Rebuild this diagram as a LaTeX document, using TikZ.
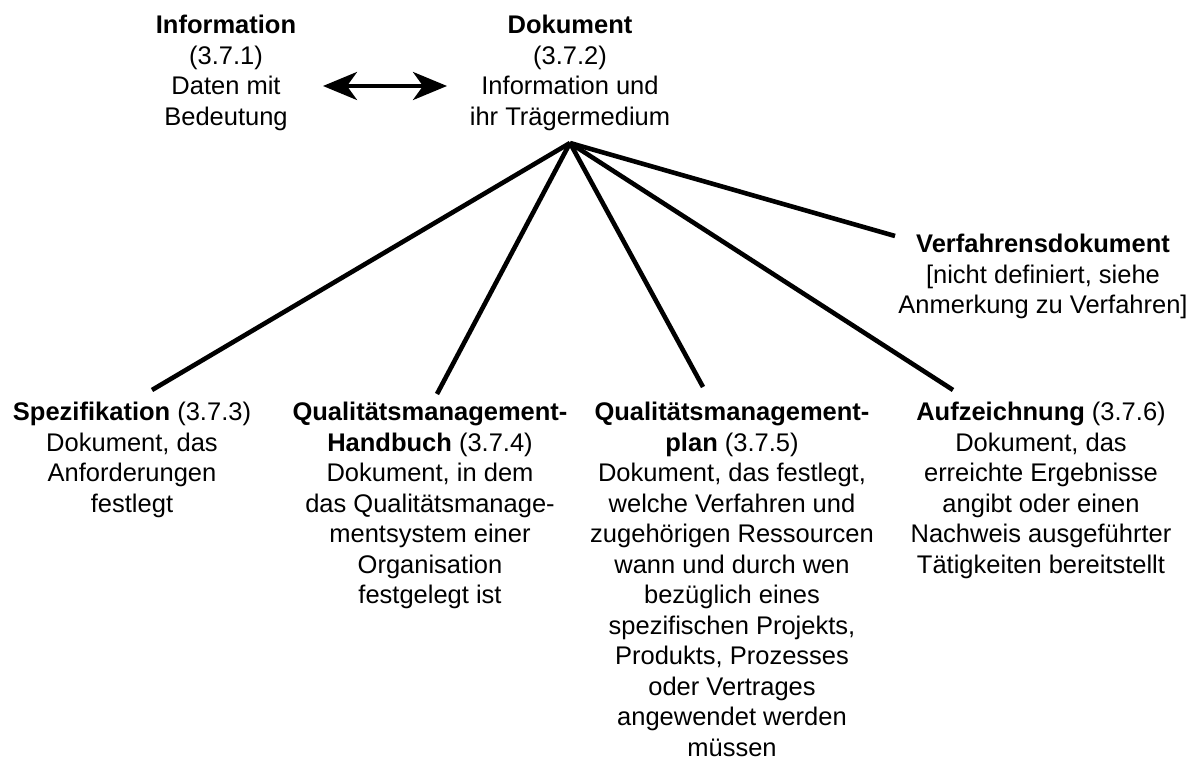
\documentclass[tikz,border=0pt]{standalone}
\usepackage{fontspec}
\setmainfont{Liberation Sans}
\usetikzlibrary{arrows.meta}
\begin{document}
\begin{tikzpicture}[x=1pt,y=-1pt,
  term/.style={anchor=north,align=center,inner sep=0pt,
    font=\fontsize{25.5}{30.5}\selectfont},
  link/.style={line width=4.6pt,line cap=butt},
  pair/.style={line width=4pt,{Stealth[length=34pt,width=28pt,inset=10pt]}-{Stealth[length=34pt,width=28pt,inset=10pt]}}]
\useasboundingbox (0,0) rectangle (1203,767);

% upper level
\node[term] (info) at (226,15) {\textbf{Information}\\(3.7.1)\\Daten mit\\Bedeutung};
\node[term] (dok) at (570,15) {\textbf{Dokument}\\(3.7.2)\\Information und\\ihr Trägermedium};
\coordinate (hub) at (570,143);
\coordinate (arrL) at (323,86);
\coordinate (arrR) at (447,86);
\draw[pair] (arrL) -- (arrR);

% kinds of documents
\node[term] (verf) at (1043,234) {\textbf{Verfahrensdokument}\\{}[nicht definiert, siehe\\Anmerkung zu Verfahren]};
\node[term] (spez) at (132,402) {\textbf{Spezifikation} (3.7.3)\\Dokument, das\\Anforderungen\\festlegt};
\node[term] (qmh) at (430,402) {\textbf{Qualitätsmanagement-}\\\textbf{Handbuch} (3.7.4)\\Dokument, in dem\\das Qualitätsmanage-\\mentsystem einer\\Organisation\\festgelegt ist};
\node[term] (qmp) at (732,402) {\textbf{Qualitätsmanagement-}\\\textbf{plan} (3.7.5)\\Dokument, das festlegt,\\welche Verfahren und\\zugehörigen Ressourcen\\wann und durch wen\\bezüglich eines\\spezifischen Projekts,\\Produkts, Prozesses\\oder Vertrages\\angewendet werden\\müssen};
\node[term] (aufz) at (1041,402) {\textbf{Aufzeichnung} (3.7.6)\\Dokument, das\\erreichte Ergebnisse\\angibt oder einen\\Nachweis ausgeführter\\Tätigkeiten bereitstellt};

% line ends above each entry
\coordinate (eSpez) at (152,390);
\coordinate (eQmh) at (437,394);
\coordinate (eQmp) at (703,387);
\coordinate (eAufz) at (953,390);
\coordinate (eVerf) at (895,236);

\draw[link] (hub) -- (eSpez);
\draw[link] (hub) -- (eQmh);
\draw[link] (hub) -- (eQmp);
\draw[link] (hub) -- (eAufz);
\draw[link] (hub) -- (eVerf);
\end{tikzpicture}
\end{document}
